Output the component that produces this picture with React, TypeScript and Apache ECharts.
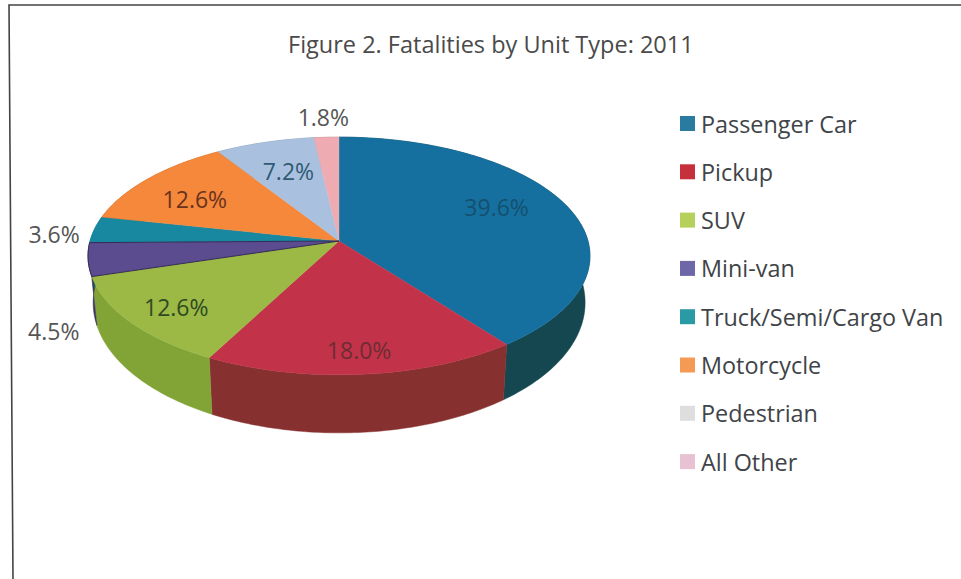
import React, { useEffect, useRef } from "react";
import * as echarts from "echarts";

const categories = ["Passenger Car", "Pickup", "SUV", "Mini-van", "Truck/Semi/Cargo Van", "Motorcycle", "Pedestrian", "All Other"];
const percentages = [39.6, 18.0, 12.6, 4.5, 3.6, 12.6, 7.2, 1.8];
const topColors = ["#16709f", "#c2334a", "#9cb845", "#5b4b8f", "#17889f", "#f5883a", "#a9c1df", "#eeacb2"];
const sideColors = ["#14474f", "#86302f", "#82a437", "#3c3160", "#12687a", "#b8662a", "#8093a9", "#b58287"];
const edgeColors = ["#16709f", "#c2334a", "#9cb845", "#352b55", "#17889f", "#f5883a", "#a9c1df", "#eeacb2"];
const swatchColors = ["#2a7ba0", "#c5303c", "#b6d05c", "#6d67a8", "#2a9aa5", "#f59a55", "#dedede", "#e8c2d2"];
const labelColors = ["#14506e", "#6e2c33", "#2f4a22", "#555555", "#555555", "#6a3320", "#2e5a74", "#555555"];

// label placement: radius along each slice's mid-angle, then a nudge in pixels
const labelRadius = [0.7, 0.85, 0.8, 1.2, 1.15, 0.7, 0.7, 1.2];
const labelNudgeX = [-3, 0, 1, 17, -4, -8, 3, -1];
const labelNudgeY = [-9, -2, 2, 68, 6, 3, 1, -2];

// perspective projection of the pie disc
const CX = 339, CY = 241, A = 249, B = 117, K = 0.126;
const total = percentages.reduce((s, v) => s + v, 0);

function project(theta: number, r: number, lowered = false): number[] {
  const u = r * Math.sin(theta);
  const v = -r * Math.cos(theta);
  const w = 1 - K * v;
  const x = CX + (A * u) / w;
  const y = CY + (B * v) / w;
  if (!lowered) return [x, y];
  return [345 + (x - 345) * 0.98, y + 45 + 13 * v];
}

function arc(a0: number, a1: number, lowered = false): number[][] {
  const n = Math.max(2, Math.ceil((a1 - a0) / 0.015));
  const pts: number[][] = [];
  for (let i = 0; i <= n; i++) pts.push(project(a0 + ((a1 - a0) * i) / n, 1, lowered));
  return pts;
}

function makeRenderItem(index: number) {
  return (_params: any, api: any) => {
    const a0 = (api.value(0) / total) * Math.PI * 2;
    const a1 = (api.value(1) / total) * Math.PI * 2;
    const mid = (a0 + a1) / 2;
    const labelPos = project(mid, labelRadius[index]);
    return {
      type: "group",
      children: [
        {
          type: "polygon",
          z2: 1,
          shape: { points: [...arc(a0, a1), ...arc(a0, a1, true).reverse()] },
          style: { fill: sideColors[index], stroke: sideColors[index], lineWidth: 0.5 },
        },
        {
          type: "polygon",
          z2: index === 3 ? 3 : 2,
          shape: { points: [[CX, CY], ...arc(a0, a1)] },
          style: { fill: topColors[index], stroke: edgeColors[index], lineWidth: index === 3 ? 1 : 0.4 },
        },
        {
          type: "text",
          z2: 4,
          x: labelPos[0] + labelNudgeX[index],
          y: labelPos[1] + labelNudgeY[index],
          style: {
            text: percentages[index].toFixed(1) + "%",
            fill: labelColors[index],
            font: '23px "Open Sans"',
            align: "center",
            verticalAlign: "middle",
          },
        },
      ],
    };
  };
}

export default function App() {
  const ref = useRef<HTMLDivElement>(null);
  useEffect(() => {
    const chart = echarts.init(ref.current!, undefined, { renderer: "svg" });
    let cum = 0;
    const series = categories.map((name, i) => {
      const start = cum;
      cum += percentages[i];
      return {
        type: "custom",
        name,
        coordinateSystem: "none",
        itemStyle: { color: topColors[i] },
        silent: true,
        data: [[start, cum]],
        renderItem: makeRenderItem(i),
      };
    });
    chart.setOption({
      animation: false,
      backgroundColor: "#ffffff",
      title: {
        text: "Figure 2. Fatalities by Unit Type: 2011",
        left: 283,
        top: 27,
        textStyle: { fontFamily: "Open Sans", fontSize: 23.5, fontWeight: "normal", color: "#4a4a4a" },
      },
      legend: {
        orient: "vertical",
        left: 675,
        top: 104,
        itemWidth: 15,
        itemHeight: 15,
        itemGap: 19.3,
        icon: "rect",
        textStyle: { fontFamily: "Open Sans", fontSize: 23.4, color: "#3f4448", padding: [0, 0, 0, 1], lineHeight: 29 },
        data: categories.map((name, i) => ({ name, itemStyle: { color: swatchColors[i] } })),
      },
      graphic: [
        {
          type: "polyline",
          silent: true,
          shape: { points: [[961, 5], [9, 5], [13, 579]] },
          style: { stroke: "#444444", lineWidth: 1.6, fill: "none" },
        },
      ],
      series,
    });
    return () => chart.dispose();
  }, []);
  return <div ref={ref} style={{ position: "absolute", left: 0, top: 0, width: 961, height: 579 }} />;
}
